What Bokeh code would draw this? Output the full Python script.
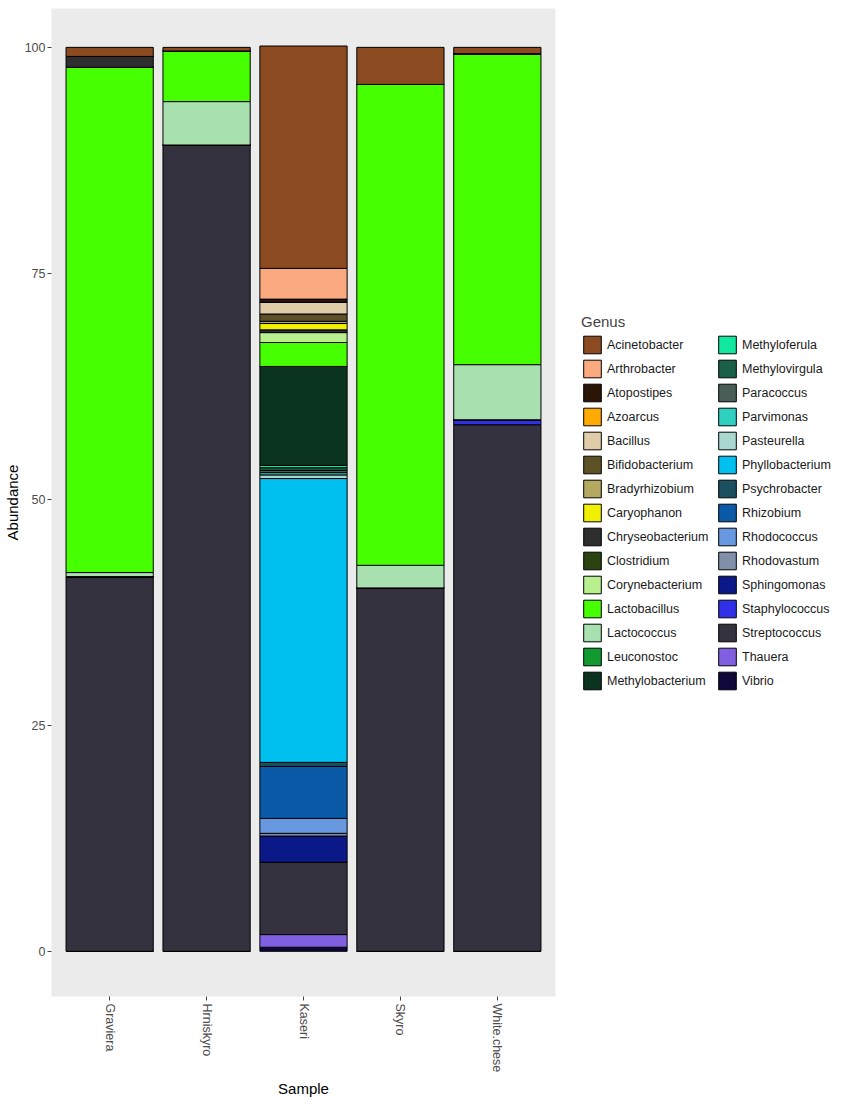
import math
from bokeh.plotting import figure
from bokeh.models import (FactorRange, Range1d, Legend, LegendItem, FixedTicker,
                          ColumnDataSource)
from bokeh.embed import file_html
from bokeh.resources import INLINE

samples = ["Graviera", "Hrniskyro", "Kaseri", "Skyro", "White.chese"]

genera = ["Acinetobacter", "Arthrobacter", "Atopostipes", "Azoarcus", "Bacillus",
          "Bifidobacterium", "Bradyrhizobium", "Caryophanon", "Chryseobacterium",
          "Clostridium", "Corynebacterium", "Lactobacillus", "Lactococcus",
          "Leuconostoc", "Methylobacterium", "Methyloferula", "Methylovirgula",
          "Paracoccus", "Parvimonas", "Pasteurella", "Phyllobacterium",
          "Psychrobacter", "Rhizobium", "Rhodococcus", "Rhodovastum",
          "Sphingomonas", "Staphylococcus", "Streptococcus", "Thauera", "Vibrio"]

colors = ["#8B4A20", "#FBAA80", "#2B1507", "#FFAA00", "#E0CCA8",
          "#5C5226", "#B5A860", "#F0F000", "#2E2E2E",
          "#2A4310", "#B8F090", "#46FF00", "#A8E0B0",
          "#109A30", "#0A3320", "#10E8A0", "#1A6048",
          "#4A5E58", "#30D0C0", "#A8D8D0", "#00C0F0",
          "#1A5060", "#0A5AA8", "#6898E0", "#8090A8",
          "#0A1888", "#3030E8", "#35323F", "#8060E0", "#10083A"]

# abundance per genus (same order as genera) for each sample
graviera = [1.0, 0, 0, 0, 0, 0, 0, 0, 1.2, 0, 0, 55.9, 0.45, 0, 0,
            0, 0, 0, 0, 0, 0, 0, 0, 0, 0, 0, 0, 41.45, 0, 0]
hrniskyro = [0.4, 0, 0, 0, 0, 0, 0, 0, 0, 0, 0, 5.6, 4.8, 0, 0,
             0, 0, 0, 0, 0, 0, 0, 0, 0, 0, 0, 0, 89.2, 0, 0]
kaseri = [24.6, 3.4, 0.35, 0, 1.3, 0.8, 0.25, 0.7, 0.3, 0, 1.1, 2.65, 0, 0, 10.95,
          0.25, 0.3, 0.25, 0.25, 0.4, 31.4, 0.45, 5.75, 1.65, 0.3, 2.9, 0, 8.0, 1.4, 0.45]
skyro = [4.1, 0, 0, 0, 0, 0, 0, 0, 0, 0, 0, 53.2, 2.5, 0, 0,
         0, 0, 0, 0, 0, 0, 0, 0, 0, 0, 0, 0, 40.2, 0, 0]
white_chese = [0.7, 0, 0, 0, 0, 0, 0, 0, 0, 0, 0, 34.4, 6.1, 0, 0,
               0, 0, 0, 0, 0, 0, 0, 0, 0, 0, 0, 0.55, 58.25, 0, 0]

yticks = [0, 25, 50, 75, 100]

per_sample = [graviera, hrniskyro, kaseri, skyro, white_chese]
data = {"Sample": samples}
for i, g in enumerate(genera):
    data[g] = [vals[i] for vals in per_sample]
source = ColumnDataSource(data)

FONT = "Liberation Sans"

p = figure(x_range=FactorRange(*samples, range_padding=0.04, range_padding_units="percent"),
           y_range=Range1d(-5, 104.3),
           frame_width=504, frame_height=988,
           min_border_left=46, min_border_top=8, min_border_bottom=94, min_border_right=20,
           output_backend="svg", toolbar_location=None)

p.background_fill_color = "#EBEBEB"
p.border_fill_color = "white"
p.outline_line_color = None
p.xgrid.grid_line_color = None
p.ygrid.grid_line_color = None

stackers = list(reversed(genera))
renderers = p.vbar_stack(stackers, x="Sample", width=0.9, source=source,
                         fill_color=list(reversed(colors)), line_color="black",
                         line_width=1)
rmap = {g: r for g, r in zip(stackers, renderers)}

items = [LegendItem(label=g, renderers=[rmap[g]]) for g in genera]
legend = Legend(items=items, ncols=2, orientation="vertical", location="left",
                title="Genus", title_text_font=FONT, title_text_font_size="15px",
                title_text_font_style="normal", title_standoff=4,
                label_text_font=FONT, label_text_font_size="12.5px",
                label_text_color="#1A1A1A",
                glyph_width=22, glyph_height=22, label_height=22, label_width=107,
                label_standoff=4, spacing=2, padding=0, margin=26,
                border_line_color=None, background_fill_alpha=0)
p.add_layout(legend, "right")

for ax in (p.xaxis[0], p.yaxis[0]):
    ax.axis_line_color = None
    ax.major_tick_line_color = "#444444"
    ax.major_tick_out = 4
    ax.major_tick_in = 0
    ax.minor_tick_line_color = None
    ax.major_label_text_font = FONT
    ax.major_label_text_font_size = "12.5px"
    ax.major_label_text_color = "#4D4D4D"
    ax.axis_label_text_font = FONT
    ax.axis_label_text_font_size = "15px"
    ax.axis_label_text_font_style = "normal"
    ax.axis_label_text_color = "black"

p.yaxis.ticker = FixedTicker(ticks=yticks)
p.yaxis.axis_label = "Abundance"
p.yaxis.major_label_standoff = 2
p.yaxis.axis_label_standoff = 1
p.xaxis.axis_label = "Sample"
p.xaxis.major_label_orientation = -math.pi / 2
p.xaxis.major_label_standoff = 3
p.xaxis.axis_label_standoff = 5

open("out.html", "w").write(file_html(p, INLINE))
